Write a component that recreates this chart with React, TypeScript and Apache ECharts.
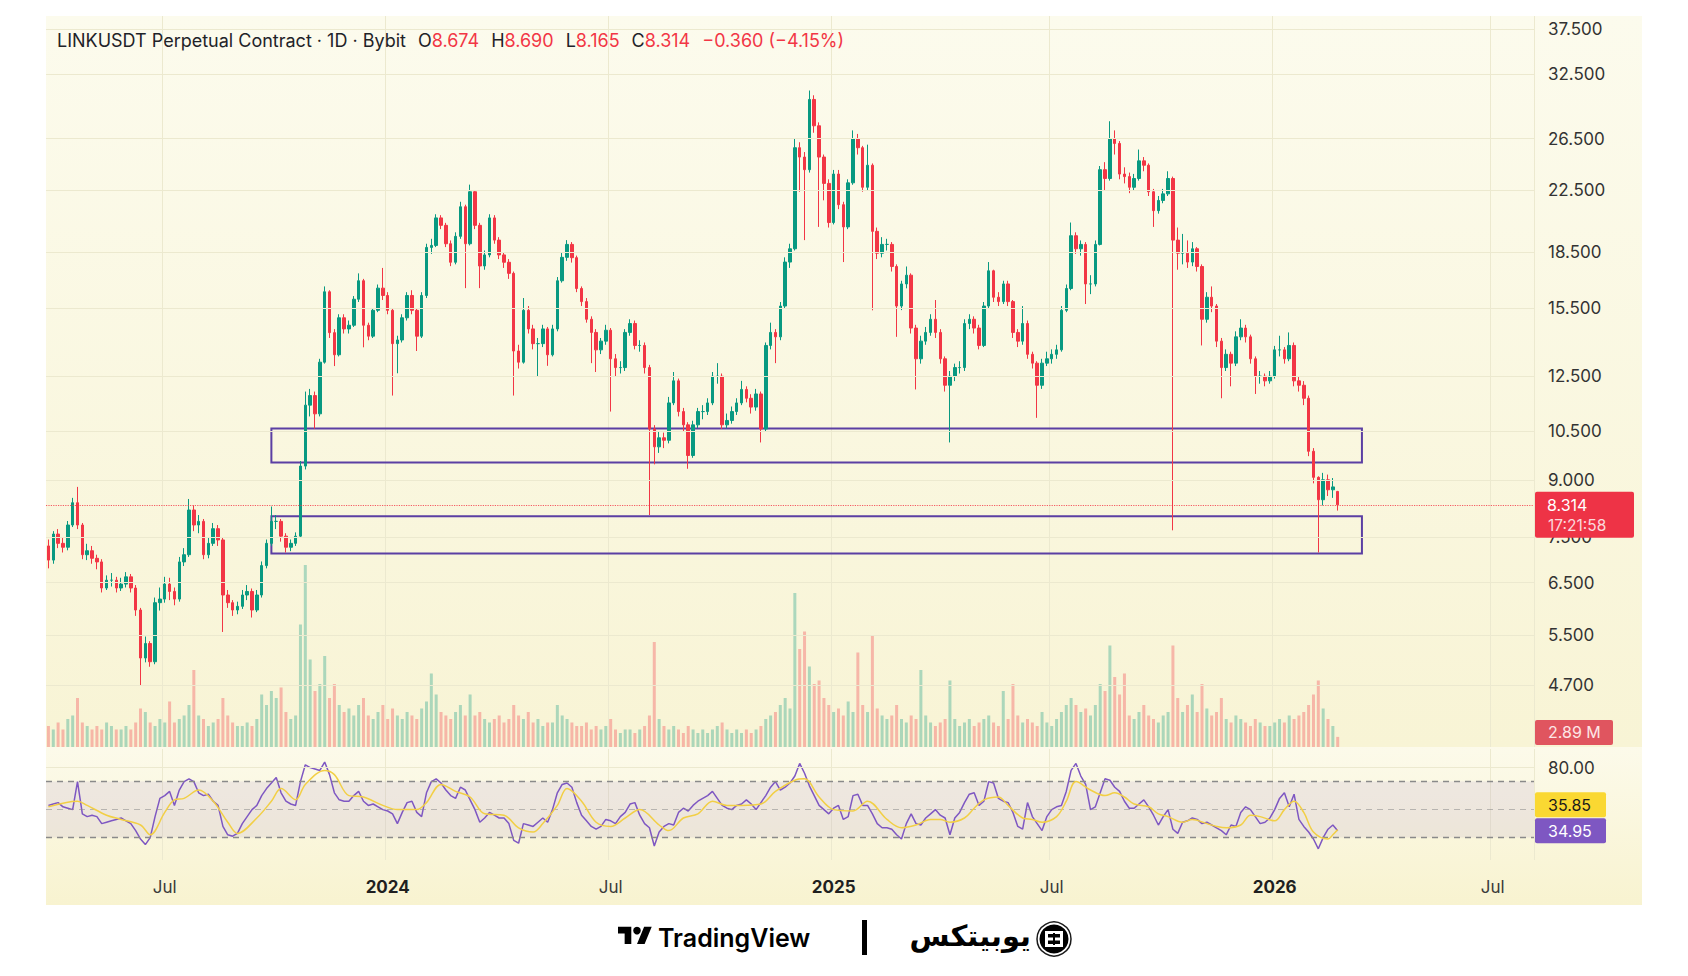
import React, { useEffect, useRef } from "react";
import * as echarts from "echarts";

// ---------- DATA ----------
const START_DATE = "2023-03-24";
const PERIOD_DAYS = 4;
const TOTAL_PERIODS = 307; // axis runs to early Aug 2026

// candles: [open, close, low, high] (4-day periods)
const ohlc: number[][] = [
  [7.30, 6.98, 6.80, 7.45], [6.98, 7.58, 6.90, 7.65], [7.58, 7.36, 7.25, 7.70], [7.36, 7.27, 7.15, 7.50], [7.27, 7.80, 7.20, 7.90],
  [7.80, 8.37, 7.75, 8.50], [8.37, 7.80, 7.70, 8.80], [7.80, 7.10, 7.00, 7.85], [7.10, 7.19, 6.98, 7.35], [7.19, 7.02, 6.90, 7.30],
  [7.02, 6.94, 6.78, 7.10], [6.94, 6.39, 6.30, 7.00], [6.39, 6.55, 6.35, 6.65], [6.55, 6.55, 6.42, 6.70], [6.55, 6.39, 6.30, 6.62],
  [6.39, 6.47, 6.33, 6.60], [6.47, 6.62, 6.40, 6.72], [6.62, 6.39, 6.30, 6.68], [6.39, 5.96, 5.85, 6.45], [5.96, 5.12, 4.69, 6.00],
  [5.12, 5.36, 5.05, 5.48], [5.36, 5.06, 4.98, 5.40], [5.06, 6.10, 5.02, 6.20], [6.10, 6.17, 5.95, 6.40], [6.17, 6.47, 6.10, 6.62],
  [6.47, 6.32, 6.15, 6.60], [6.32, 6.17, 6.05, 6.40], [6.17, 6.94, 6.12, 7.05], [6.94, 7.10, 6.85, 7.25], [7.10, 8.18, 7.05, 8.47],
  [8.18, 7.80, 7.65, 8.30], [7.80, 7.89, 7.60, 8.05], [7.89, 7.10, 7.00, 7.95], [7.10, 7.36, 7.02, 7.50], [7.36, 7.71, 7.30, 7.85],
  [7.71, 7.44, 7.30, 7.80], [7.44, 6.25, 5.56, 7.50], [6.25, 6.10, 6.00, 6.35], [6.10, 5.96, 5.85, 6.15], [5.96, 6.03, 5.88, 6.12],
  [6.03, 6.25, 5.98, 6.35], [6.25, 6.32, 6.15, 6.45], [6.32, 5.96, 5.82, 6.38], [5.96, 6.25, 5.92, 6.35], [6.25, 6.86, 6.20, 6.95],
  [6.86, 7.36, 6.80, 7.45], [7.36, 7.89, 7.30, 8.27], [7.89, 7.89, 7.70, 8.05], [7.89, 7.53, 7.40, 7.95], [7.53, 7.27, 7.15, 7.60],
  [7.27, 7.36, 7.18, 7.45], [7.36, 7.53, 7.30, 7.62], [7.53, 9.40, 7.50, 9.55], [9.40, 11.40, 9.30, 11.90], [11.40, 11.75, 11.00, 12.00],
  [11.75, 11.09, 10.58, 11.90], [11.09, 13.06, 11.00, 13.20], [13.06, 16.32, 13.00, 16.60], [16.32, 14.34, 14.10, 16.40], [14.34, 13.37, 12.90, 14.50],
  [13.37, 15.03, 13.30, 15.20], [15.03, 14.51, 14.30, 15.20], [14.51, 14.68, 14.30, 14.90], [14.68, 15.94, 14.60, 16.10], [15.94, 16.90, 15.80, 17.30],
  [16.90, 14.68, 13.69, 17.00], [14.68, 14.18, 14.00, 14.80], [14.18, 15.39, 14.10, 15.50], [15.39, 16.51, 15.30, 16.70], [16.51, 16.13, 15.90, 17.60],
  [16.13, 15.39, 15.20, 16.30], [15.39, 13.85, 11.75, 15.50], [13.85, 14.01, 12.61, 14.20], [14.01, 15.03, 13.90, 15.20], [15.03, 16.13, 14.90, 16.30],
  [16.13, 15.39, 15.20, 16.40], [15.39, 14.18, 13.53, 15.50], [14.18, 16.13, 14.10, 16.30], [16.13, 18.78, 16.00, 19.00], [18.78, 18.90, 18.40, 19.30],
  [18.90, 20.62, 18.80, 20.86], [20.62, 20.14, 19.90, 20.80], [20.14, 19.00, 18.80, 20.30], [19.00, 17.92, 17.70, 19.20], [17.92, 19.45, 17.80, 19.70],
  [19.45, 21.36, 19.30, 21.70], [21.36, 19.00, 16.51, 21.50], [19.00, 22.40, 18.90, 22.91], [22.40, 20.14, 19.90, 22.50], [20.14, 17.71, 16.51, 20.30],
  [17.71, 18.34, 17.50, 18.60], [18.34, 20.62, 18.20, 20.86], [20.62, 19.22, 19.00, 20.80], [19.22, 18.34, 18.10, 19.40], [18.34, 17.92, 17.60, 18.50],
  [17.92, 17.30, 17.00, 18.10], [17.30, 13.53, 11.75, 17.40], [13.53, 13.06, 12.80, 13.80], [13.06, 15.39, 13.00, 16.00], [15.39, 14.51, 14.30, 15.60],
  [14.51, 13.85, 13.60, 14.70], [13.85, 13.85, 12.47, 14.10], [13.85, 14.51, 13.70, 14.70], [14.51, 13.37, 12.91, 14.60], [13.37, 14.51, 13.30, 14.70],
  [14.51, 16.90, 14.40, 17.10], [16.90, 18.20, 16.80, 18.50], [18.20, 18.96, 18.00, 19.22], [18.96, 18.18, 17.90, 19.10], [18.18, 16.49, 16.30, 18.30],
  [16.49, 15.82, 15.60, 16.60], [15.82, 14.96, 14.80, 16.00], [14.96, 14.35, 13.02, 15.10], [14.35, 13.58, 12.66, 14.50], [13.58, 13.96, 13.40, 14.10],
  [13.96, 14.45, 13.80, 14.70], [14.45, 13.20, 11.17, 14.55], [13.20, 12.84, 12.50, 13.40], [12.84, 12.84, 12.60, 13.10], [12.84, 14.35, 12.70, 14.50],
  [14.35, 14.76, 14.20, 14.96], [14.76, 13.77, 13.60, 14.90], [13.77, 13.77, 13.50, 14.00], [13.77, 12.84, 12.60, 13.90], [12.84, 10.57, 8.05, 12.95],
  [10.57, 9.99, 9.45, 10.70], [9.99, 10.28, 9.80, 10.50], [10.28, 10.20, 9.95, 10.45], [10.20, 11.48, 10.10, 11.70], [11.48, 12.31, 11.40, 12.66],
  [12.31, 11.17, 11.00, 12.40], [11.17, 10.71, 10.50, 11.30], [10.71, 9.72, 9.32, 10.80], [9.72, 10.71, 9.65, 10.85], [10.71, 11.17, 10.60, 11.30],
  [11.17, 11.17, 10.90, 11.40], [11.17, 11.48, 11.05, 11.65], [11.48, 12.49, 11.40, 12.66], [12.49, 12.49, 12.20, 13.02], [12.49, 10.71, 10.57, 12.60],
  [10.71, 10.86, 10.60, 11.10], [10.86, 11.17, 10.75, 11.35], [11.17, 11.48, 11.05, 11.65], [11.48, 11.98, 11.40, 12.31], [11.98, 11.65, 11.50, 12.10],
  [11.65, 11.33, 11.10, 11.80], [11.33, 11.81, 11.20, 12.00], [11.81, 10.57, 10.13, 11.90], [10.57, 13.77, 10.50, 13.90], [13.77, 14.35, 13.60, 14.80],
  [14.35, 14.15, 13.02, 14.50], [14.15, 15.60, 14.00, 15.80], [15.60, 17.93, 15.50, 18.20], [17.93, 18.70, 17.60, 19.00], [18.70, 25.75, 18.60, 26.48],
  [25.75, 25.00, 22.40, 26.20], [25.00, 24.02, 19.22, 25.40], [24.02, 30.00, 23.80, 30.86], [30.00, 27.60, 27.00, 30.40], [27.60, 25.00, 20.04, 27.90],
  [25.00, 23.00, 21.80, 25.20], [23.00, 20.32, 20.00, 23.30], [20.32, 23.69, 20.20, 24.00], [23.69, 21.50, 21.20, 24.00], [21.50, 20.04, 17.93, 21.70],
  [20.04, 23.04, 19.90, 23.30], [23.04, 26.48, 22.90, 27.20], [26.48, 25.75, 25.20, 26.90], [25.75, 22.72, 22.40, 25.90], [22.72, 24.36, 22.50, 26.00],
  [24.36, 19.76, 15.39, 24.50], [19.76, 18.44, 18.10, 20.00], [18.44, 18.96, 18.20, 19.40], [18.96, 18.96, 18.60, 19.30], [18.96, 17.68, 17.40, 19.10],
  [17.68, 15.60, 14.15, 17.80], [15.60, 16.73, 15.40, 16.90], [16.73, 17.20, 16.50, 17.68], [17.20, 14.55, 14.30, 17.30], [14.55, 13.20, 11.98, 14.70],
  [13.20, 13.96, 13.00, 14.20], [13.96, 14.35, 13.80, 14.60], [14.35, 14.96, 14.20, 15.20], [14.96, 14.35, 14.10, 15.90], [14.35, 13.20, 13.00, 14.50],
  [13.20, 12.14, 11.90, 13.30], [12.14, 12.49, 10.13, 12.70], [12.49, 12.84, 12.30, 13.00], [12.84, 12.84, 12.60, 13.10], [12.84, 14.76, 12.70, 14.96],
  [14.76, 14.96, 14.50, 15.20], [14.96, 14.55, 14.30, 15.10], [14.55, 13.77, 13.60, 14.70], [13.77, 15.60, 13.70, 15.80], [15.60, 17.44, 15.50, 17.93],
  [17.44, 16.04, 15.80, 17.50], [16.04, 15.82, 15.60, 16.30], [15.82, 16.73, 15.70, 16.90], [16.73, 15.82, 15.60, 16.90], [15.82, 14.35, 14.10, 15.90],
  [14.35, 13.96, 13.70, 14.50], [13.96, 14.76, 13.80, 15.60], [14.76, 13.39, 13.20, 14.90], [13.39, 13.02, 12.80, 13.50], [13.02, 12.14, 10.95, 13.10],
  [12.14, 13.02, 12.00, 13.20], [13.02, 13.20, 12.90, 13.50], [13.20, 13.39, 13.00, 13.60], [13.39, 13.58, 13.20, 13.80], [13.58, 15.39, 13.50, 15.60],
  [15.39, 16.49, 15.30, 16.70], [16.49, 19.49, 16.40, 20.32], [19.49, 18.70, 18.40, 19.70], [18.70, 18.96, 18.30, 19.20], [18.96, 16.73, 15.70, 19.10],
  [16.73, 16.73, 16.20, 17.20], [16.73, 18.96, 16.60, 19.20], [18.96, 24.02, 18.90, 24.30], [24.02, 23.36, 22.50, 24.60], [23.36, 26.48, 23.20, 28.00],
  [26.48, 26.10, 25.20, 27.20], [26.10, 23.69, 23.30, 26.30], [23.69, 23.50, 23.00, 24.20], [23.50, 22.72, 22.30, 23.80], [22.72, 23.36, 22.50, 23.70],
  [23.36, 24.70, 23.20, 25.60], [24.70, 24.36, 23.90, 25.00], [24.36, 22.40, 22.10, 24.50], [22.40, 21.10, 20.04, 22.60], [21.10, 21.79, 20.90, 22.10],
  [21.79, 22.25, 21.60, 22.60], [22.25, 23.36, 22.10, 23.90], [23.36, 19.22, 7.67, 23.50], [19.22, 18.44, 17.50, 20.00], [18.44, 18.44, 17.80, 19.60],
  [18.44, 17.93, 17.60, 19.20], [17.93, 18.70, 17.70, 19.10], [18.70, 17.68, 17.40, 18.80], [17.68, 14.96, 13.77, 17.80], [14.96, 16.04, 14.80, 16.30],
  [16.04, 15.60, 15.30, 16.60], [15.60, 13.96, 13.70, 15.70], [13.96, 12.84, 11.65, 14.10], [12.84, 13.39, 12.70, 13.60], [13.39, 13.02, 12.10, 13.50],
  [13.02, 14.15, 12.90, 14.40], [14.15, 14.55, 14.00, 14.96], [14.55, 14.15, 13.90, 14.70], [14.15, 13.20, 13.00, 14.25], [13.20, 12.49, 11.81, 13.30],
  [12.49, 12.49, 12.20, 12.70], [12.49, 12.31, 12.10, 12.60], [12.31, 12.49, 12.20, 12.70], [12.49, 13.58, 12.40, 13.75], [13.58, 13.58, 13.30, 14.20],
  [13.58, 13.20, 13.00, 13.70], [13.20, 13.77, 13.10, 14.35], [13.77, 12.31, 12.10, 13.90], [12.31, 12.14, 11.90, 12.50], [12.14, 11.65, 11.40, 12.30],
  [11.65, 9.85, 9.70, 11.75], [9.85, 9.07, 8.90, 9.95], [9.07, 8.45, 7.15, 9.10], [8.45, 9.00, 8.30, 9.20], [9.00, 8.72, 8.55, 9.15],
  [8.72, 8.80, 8.50, 9.05], [8.674, 8.314, 8.165, 8.690],
];

// volume per period (millions)
const volumes: number[] = [
  6, 5, 7, 5, 8, 9, 14, 7, 6, 5,
  6, 5, 7, 6, 5, 5, 6, 5, 7, 11,
  10, 7, 6, 8, 7, 13, 7, 8, 9, 12,
  22, 9, 8, 6, 7, 8, 14, 9, 7, 6,
  6, 7, 6, 8, 15, 12, 16, 14, 17, 10,
  8, 9, 35, 52, 25, 16, 18, 26, 14, 18,
  12, 10, 11, 9, 12, 14, 9, 8, 10, 12,
  8, 11, 9, 8, 10, 9, 8, 11, 13, 21,
  15, 10, 9, 8, 10, 12, 9, 15, 9, 10,
  8, 7, 8, 9, 7, 8, 12, 9, 8, 10,
  7, 8, 6, 7, 7, 12, 9, 8, 7, 6,
  6, 7, 5, 6, 5, 6, 8, 5, 4, 5,
  5, 4, 5, 6, 9, 30, 8, 6, 5, 6,
  5, 4, 6, 5, 4, 5, 4, 5, 6, 7,
  5, 4, 5, 4, 5, 4, 5, 6, 8, 9,
  10, 12, 14, 11, 44, 28, 33, 23, 18, 19,
  14, 12, 10, 11, 9, 13, 10, 27, 12, 10,
  32, 11, 9, 8, 9, 12, 8, 7, 9, 8,
  22, 9, 7, 6, 7, 8, 19, 8, 6, 7,
  8, 6, 7, 8, 9, 7, 6, 16, 8, 18,
  9, 7, 8, 7, 6, 10, 7, 6, 8, 10,
  12, 14, 12, 10, 11, 9, 12, 18, 16, 29,
  20, 15, 21, 9, 8, 10, 12, 9, 8, 7,
  9, 10, 29, 14, 10, 12, 15, 10, 18, 11,
  9, 10, 14, 8, 7, 9, 8, 7, 6, 8,
  7, 6, 6, 7, 8, 7, 9, 8, 9, 10,
  12, 15, 19, 11, 8, 6, 2.89,
];

// RSI (14) per period
const rsiValues: number[] = [
  53, 54, 55, 52, 51, 50, 70, 47, 45, 46,
  45, 40, 41, 42, 43, 44, 42, 40, 35, 29,
  25, 30, 45, 58, 60, 63, 53, 64, 70, 72,
  70, 62, 60, 61, 56, 53, 38, 32, 31, 33,
  40, 45, 50, 53, 60, 65, 69, 73, 62, 56,
  54, 53, 70, 82, 80, 79, 78, 84, 75, 62,
  57, 56, 56, 60, 63, 56, 53, 54, 52, 50,
  49, 47, 40, 48, 55, 56, 48, 45, 62, 70,
  72, 69, 64, 60, 58, 66, 64, 57, 50, 41,
  44, 48, 46, 44, 44, 40, 28, 26, 40, 39,
  38, 41, 44, 41, 50, 62, 68, 69, 66, 55,
  46, 42, 38, 36, 38, 43, 42, 40, 45, 48,
  54, 55, 46, 40, 37, 24, 34, 38, 40, 39,
  48, 51, 49, 53, 56, 58, 60, 63, 58, 53,
  51, 50, 53, 54, 57, 54, 50, 55, 60, 66,
  70, 64, 66, 69, 74, 83, 76, 67, 60, 53,
  50, 47, 51, 53, 43, 45, 60, 61, 53, 53,
  47, 40, 37, 37, 36, 32, 29, 40, 47, 40,
  39, 44, 47, 50, 46, 44, 32, 44, 48, 55,
  61, 62, 53, 56, 70, 69, 58, 56, 55, 48,
  38, 36, 55, 45, 40, 35, 45, 50, 52, 53,
  63, 78, 83, 74, 68, 50, 52, 62, 72, 71,
  66, 63, 56, 51, 51, 54, 57, 52, 46, 39,
  45, 50, 36, 33, 41, 42, 44, 43, 40, 41,
  39, 37, 35, 32, 39, 38, 48, 52, 50, 45,
  40, 41, 44, 50, 58, 62, 52, 61, 43, 38,
  34, 29, 22, 30, 36, 39, 34.95,
];

// RSI-based moving average, [period index, value]
const rsiMA: number[][] = [
  [0, 52], [6, 56], [8, 53], [12, 46], [15, 43], [19, 39], [21, 32], [24, 48], [26, 57], [28, 58],
  [31, 64], [34, 56], [37, 41], [39, 33], [43, 44], [46, 56], [48, 65], [51, 57], [53, 68], [57, 78],
  [59, 75], [62, 60], [65, 59], [69, 53], [72, 50], [76, 50], [78, 55], [81, 68], [84, 63], [87, 59],
  [90, 47], [94, 46], [97, 37], [100, 34], [102, 40], [105, 53], [107, 65], [110, 56], [113, 41], [116, 38],
  [119, 44], [122, 50], [126, 39], [128, 35], [131, 44], [134, 47], [137, 56], [140, 53], [143, 53], [147, 54],
  [150, 63], [154, 71], [156, 72], [159, 59], [162, 50], [166, 49], [169, 56], [173, 43], [176, 37], [179, 39],
  [182, 43], [184, 43], [186, 41], [189, 44], [191, 51], [193, 57], [196, 59], [198, 53], [201, 44], [203, 43],
  [205, 41], [208, 45], [210, 56], [212, 70], [215, 64], [218, 60], [220, 62], [222, 59], [224, 54], [227, 52],
  [229, 47], [231, 45], [234, 41], [236, 43], [239, 40], [241, 38], [243, 37], [246, 39], [248, 46], [250, 45],
  [253, 42], [255, 50], [257, 56], [259, 48], [261, 34], [264, 29], [265, 32], [266, 35.85],
];

const priceTicks = [37.5, 32.5, 26.5, 22.5, 18.5, 15.5, 12.5, 10.5, 9.0, 7.5, 6.5, 5.5, 4.7];
const xTickDates = ["2023-07-01", "2024-01-01", "2024-07-01", "2025-01-01", "2025-07-01", "2026-01-01", "2026-07-01"];
const xTickLabels = ["Jul", "2024", "Jul", "2025", "Jul", "2026", "Jul"];

const zoneFrom = "2023-09-24";
const zoneTo = "2026-03-13";
const zoneTops = [10.59, 8.02];
const zoneBottoms = [9.51, 7.13];

const LAST_CLOSE = 8.314;
const LAST_VOLUME_LABEL = "2.89 M";
const RSI_MA_LAST = 35.85;
const RSI_LAST = 34.95;
const COUNTDOWN = "17:21:58";

const RED = "#f23645";
const GREEN = "#089981";
const GRID_COLOR = "#ece9cf";
const FONT = "Inter, Roboto, sans-serif";

const TV_PATH = "M14 22H7V11H0V4h14v18zM28 22h-8l7.5-18h8L28 22z";

export default function App() {
  const ref = useRef<HTMLDivElement>(null);

  useEffect(() => {
    if (!ref.current) return;
    try {
      echarts.graphic.registerShape("tvlogo", echarts.graphic.extendPath(TV_PATH, {}));
    } catch (e) {}
    const chart = echarts.init(ref.current, null, { renderer: "svg" });

    const DAY = 86400000;
    const t0 = Date.parse(START_DATE + "T00:00:00Z");
    const categories: string[] = [];
    for (let i = 0; i < TOTAL_PERIODS; i++) {
      categories.push(new Date(t0 + i * PERIOD_DAYS * DAY).toISOString().slice(0, 10));
    }
    const idxOf = (d: string) => Math.floor((Date.parse(d + "T00:00:00Z") - t0) / (PERIOD_DAYS * DAY));
    const tickMap = new Map<number, string>();
    xTickDates.forEach((d, k) => tickMap.set(idxOf(d), xTickLabels[k]));
    const isTick = (i: number) => tickMap.has(i);

    const zFrom = categories[idxOf(zoneFrom)];
    const zTo = categories[idxOf(zoneTo)];

    const volData = volumes.map((v, i) => ({
      value: v,
      itemStyle: {
        color: ohlc[i][1] >= ohlc[i][0] ? "rgba(8,153,129,0.32)" : "rgba(242,54,69,0.32)",
      },
    }));

    const splitLine = { show: true, interval: isTick, lineStyle: { color: GRID_COLOR, width: 1 } };

    const option: any = {
      animation: false,
      backgroundColor: "#ffffff",
      textStyle: { fontFamily: FONT },
      grid: [
        { left: 46, right: 154, top: 16, height: 731 },
        { left: 46, right: 154, top: 537, height: 210 },
        { left: 46, right: 154, top: 749, height: 111 },
      ],
      xAxis: [
        {
          type: "category", gridIndex: 0, data: categories,
          axisLine: { show: false }, axisTick: { show: false }, axisLabel: { show: false },
          splitLine,
        },
        { type: "category", gridIndex: 1, data: categories, show: false },
        {
          type: "category", gridIndex: 2, data: categories,
          axisLine: { show: false }, axisTick: { show: false },
          splitLine,
          axisLabel: {
            interval: (i: number) => isTick(i),
            margin: 18, fontSize: 17, color: "#3b3b3b", fontFamily: FONT,
            formatter: (_v: string, i: number) => {
              const l = tickMap.get(i) || "";
              return /^\d/.test(l) ? "{y|" + l + "}" : l;
            },
            rich: { y: { fontWeight: "bold", fontSize: 17, color: "#1f1f1f", fontFamily: FONT } },
          },
        },
      ],
      yAxis: [
        { type: "log", logBase: 10, gridIndex: 0, min: 3.863, max: 39.07, show: false },
        { type: "value", gridIndex: 1, min: 0, max: 60, show: false },
        { type: "value", gridIndex: 2, min: 14, max: 93.3, show: false },
      ],
      series: [
        {
          type: "candlestick", name: "LINKUSDT", xAxisIndex: 0, yAxisIndex: 0, z: 3,
          data: ohlc, barWidth: 3,
          itemStyle: { color: GREEN, color0: RED, borderColor: GREEN, borderColor0: RED, borderWidth: 1 },
          markLine: {
            silent: true, symbol: ["none", "none"],
            lineStyle: { color: GRID_COLOR, width: 1, type: "solid" },
            label: {
              show: true, position: "end", distance: 14, color: "#333333", fontSize: 17, fontFamily: FONT,
              formatter: (p: any) => Number(p.value).toFixed(3),
            },
            data: [
              ...priceTicks.map((v) => ({ yAxis: v })),
              { yAxis: LAST_CLOSE, lineStyle: { color: RED, type: "dotted", width: 1.2, opacity: 0.8 }, label: { show: false } },
            ],
          },
          markArea: {
            silent: true,
            itemStyle: { color: "rgba(0,0,0,0)", borderColor: "#5b3fa3", borderWidth: 2 },
            data: zoneTops.map((top, k) => [
              { xAxis: zFrom, yAxis: top },
              { xAxis: zTo, yAxis: zoneBottoms[k] },
            ]),
          },
        },
        {
          type: "bar", name: "Volume", xAxisIndex: 1, yAxisIndex: 1, z: 2,
          data: volData, barWidth: 3,
        },
        {
          type: "line", name: "RSI", xAxisIndex: 2, yAxisIndex: 2, z: 4,
          data: rsiValues, showSymbol: false, symbol: "none",
          lineStyle: { color: "#7e57c2", width: 1.5 },
          markArea: {
            silent: true,
            itemStyle: { color: "rgba(126,87,194,0.1)" },
            data: [[{ yAxis: 70 }, { yAxis: 30 }]],
          },
          markLine: {
            silent: true, symbol: ["none", "none"],
            label: { show: false },
            data: [
              { yAxis: 70, lineStyle: { color: "#8a8a8a", type: [6, 5], width: 1.3 } },
              { yAxis: 50, lineStyle: { color: "rgba(138,138,138,0.55)", type: [6, 5], width: 1.2 } },
              { yAxis: 30, lineStyle: { color: "#8a8a8a", type: [6, 5], width: 1.3 } },
              {
                yAxis: 80, lineStyle: { color: GRID_COLOR, type: "solid", width: 1 },
                label: { show: true, position: "end", distance: 14, color: "#333333", fontSize: 17, fontFamily: FONT, formatter: "80.00" },
              },
            ],
          },
        },
        {
          type: "line", name: "RSI MA", xAxisIndex: 2, yAxisIndex: 2, z: 5,
          data: rsiMA, showSymbol: false, symbol: "none", smooth: 0.35,
          lineStyle: { color: "#f2cf45", width: 1.5 },
        },
      ],
    };

    chart.setOption(option);

    const yP = chart.convertToPixel({ yAxisIndex: 0 } as any, LAST_CLOSE) as unknown as number;
    const yV = chart.convertToPixel({ yAxisIndex: 1 } as any, volumes[volumes.length - 1]) as unknown as number;
    const yR = chart.convertToPixel({ yAxisIndex: 2 } as any, RSI_LAST) as unknown as number;

    const badgeText = (text: string, x: number, y: number, fill: string, size = 16) => ({
      type: "text", x, y, z: 30,
      style: { text, fill, fontSize: size, fontFamily: FONT, verticalAlign: "middle", textAlign: "left" },
    });

    const graphics: any[] = [
      // backgrounds
      {
        type: "rect", z: -10, shape: { x: 46, y: 16, width: 1596, height: 731 },
        style: {
          fill: new echarts.graphic.LinearGradient(0, 0, 0, 1, [
            { offset: 0, color: "#fcfbed" },
            { offset: 1, color: "#f8f4d5" },
          ]),
        },
      },
      {
        type: "rect", z: -10, shape: { x: 46, y: 747, width: 1596, height: 158 },
        style: {
          fill: new echarts.graphic.LinearGradient(0, 0, 0, 1, [
            { offset: 0, color: "#fcfaea" },
            { offset: 1, color: "#f8f3d0" },
          ]),
        },
      },
      // header
      {
        type: "text", x: 57, y: 40, z: 30,
        style: {
          text:
            "{t|LINKUSDT Perpetual Contract · 1D · Bybit}{g| }{t|O}{r|8.674}{g| }{t|H}{r|8.690}{g| }{t|L}{r|8.165}{g| }{t|C}{r|8.314}{g| }{r|−0.360 (−4.15%)}",
          verticalAlign: "middle",
          rich: {
            t: { fill: "#1f2328", fontSize: 18, fontFamily: FONT },
            r: { fill: RED, fontSize: 18, fontFamily: FONT },
            g: { width: 12, fontSize: 18 },
          },
        },
      },
      // price badge
      { type: "rect", z: 29, shape: { x: 1535, y: yP - 13, width: 99, height: 46, r: 2 }, style: { fill: "#ee3346" } },
      badgeText(LAST_CLOSE.toFixed(3), 1547, yP, "#ffffff"),
      badgeText(COUNTDOWN, 1548, yP + 21, "rgba(255,255,255,0.82)", 15.5),
      // volume badge
      { type: "rect", z: 29, shape: { x: 1535, y: yV - 17, width: 78, height: 25, r: 2 }, style: { fill: "#e0555f" } },
      badgeText(LAST_VOLUME_LABEL, 1548, yV - 4.5, "#fde6e6"),
      // RSI badges
      { type: "rect", z: 29, shape: { x: 1535, y: yR - 12.5 - 26, width: 71, height: 25, r: 2 }, style: { fill: "#fad832" } },
      badgeText(RSI_MA_LAST.toFixed(2), 1548, yR - 26, "#1a1a1a"),
      { type: "rect", z: 29, shape: { x: 1535, y: yR - 12.5, width: 71, height: 25, r: 2 }, style: { fill: "#7e57c2" } },
      badgeText(RSI_LAST.toFixed(2), 1548, yR, "#ffffff"),
      // TradingView logo
      { type: "tvlogo", x: 618, y: 923, scaleX: 0.95, scaleY: 0.95, z: 30, style: { fill: "#000000" } },
      { type: "circle", z: 30, shape: { cx: 618 + 20 * 0.95, cy: 923 + 8 * 0.95, r: 4 * 0.95 }, style: { fill: "#000000" } },
      {
        type: "text", x: 658, y: 938, z: 30,
        style: { text: "TradingView", fill: "#000000", fontSize: 25, fontWeight: 600, fontFamily: FONT, verticalAlign: "middle" },
      },
      // separator
      { type: "rect", z: 30, shape: { x: 862, y: 920, width: 5, height: 35 }, style: { fill: "#000000" } },
      // Yobitex logo
      {
        type: "text", x: 1031, y: 936, z: 30,
        style: { text: "یوبیتکس", fill: "#000000", fontSize: 29, fontWeight: "bold", fontFamily: "DejaVu Sans", verticalAlign: "middle", textAlign: "right" },
      },
      { type: "circle", z: 30, shape: { cx: 1054, cy: 939, r: 17 }, style: { fill: "#ffffff", stroke: "#1a1a1a", lineWidth: 1.5 } },
      { type: "circle", z: 31, shape: { cx: 1054, cy: 939, r: 14.5 }, style: { fill: "#000000" } },
      { type: "rect", z: 32, shape: { x: 1045, y: 931, width: 18, height: 3 }, style: { fill: "#ffffff" } },
      { type: "rect", z: 32, shape: { x: 1045, y: 937.5, width: 18, height: 3 }, style: { fill: "#ffffff" } },
      { type: "rect", z: 32, shape: { x: 1045, y: 944, width: 18, height: 3 }, style: { fill: "#ffffff" } },
      { type: "rect", z: 32, shape: { x: 1045, y: 931, width: 3, height: 16 }, style: { fill: "#ffffff" } },
      { type: "rect", z: 32, shape: { x: 1060, y: 931, width: 3, height: 16 }, style: { fill: "#ffffff" } },
      { type: "rect", z: 33, shape: { x: 1053, y: 933, width: 2, height: 12 }, style: { fill: "#000000" } },
    ];

    chart.setOption({ graphic: graphics });

    return () => chart.dispose();
  }, []);

  return <div ref={ref} style={{ position: "fixed", left: 0, top: 0, width: 1688, height: 976 }} />;
}
